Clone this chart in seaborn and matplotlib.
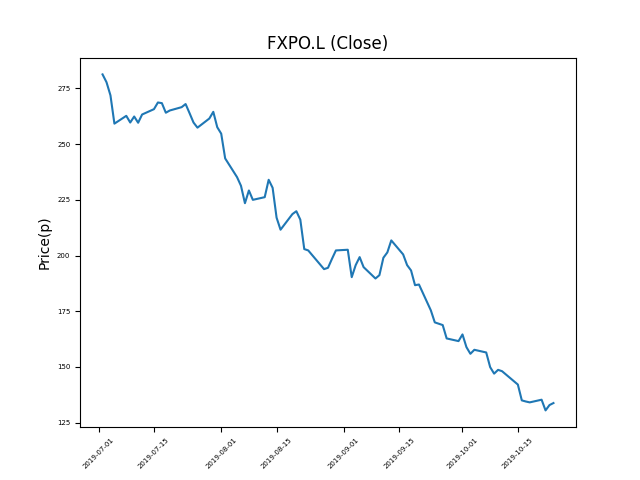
import pandas as pd
import matplotlib
matplotlib.use('Agg')
import matplotlib.pyplot as plt
import matplotlib.dates as mdates
from matplotlib.ticker import MultipleLocator
import seaborn as sns

# dados (fechamento diário, em pence)
datas = pd.to_datetime([
    '2019-07-02', '2019-07-03', '2019-07-04', '2019-07-05',
    '2019-07-08', '2019-07-09', '2019-07-10', '2019-07-11', '2019-07-12',
    '2019-07-15', '2019-07-16', '2019-07-17', '2019-07-18', '2019-07-19',
    '2019-07-22', '2019-07-23', '2019-07-24', '2019-07-25', '2019-07-26',
    '2019-07-29', '2019-07-30', '2019-07-31', '2019-08-01', '2019-08-02',
    '2019-08-05', '2019-08-06', '2019-08-07', '2019-08-08', '2019-08-09',
    '2019-08-12', '2019-08-13', '2019-08-14', '2019-08-15', '2019-08-16',
    '2019-08-19', '2019-08-20', '2019-08-21', '2019-08-22', '2019-08-23',
    '2019-08-27', '2019-08-28', '2019-08-29', '2019-08-30',
    '2019-09-02', '2019-09-03', '2019-09-04', '2019-09-05', '2019-09-06',
    '2019-09-09', '2019-09-10', '2019-09-11', '2019-09-12', '2019-09-13',
    '2019-09-16', '2019-09-17', '2019-09-18', '2019-09-19', '2019-09-20',
    '2019-09-23', '2019-09-24', '2019-09-25', '2019-09-26', '2019-09-27',
    '2019-09-30', '2019-10-01', '2019-10-02', '2019-10-03', '2019-10-04',
    '2019-10-07', '2019-10-08', '2019-10-09', '2019-10-10', '2019-10-11',
    '2019-10-14', '2019-10-15', '2019-10-16', '2019-10-17', '2019-10-18',
    '2019-10-21', '2019-10-22', '2019-10-23', '2019-10-24',
])

fechamento = [
    281.3, 277.8, 271.9, 259.2,
    262.7, 259.7, 262.4, 259.6, 263.3,
    265.7, 268.7, 268.4, 264.1, 265.1,
    266.6, 268.0, 263.9, 259.7, 257.4,
    261.5, 264.5, 257.6, 254.7, 243.6,
    235.2, 231.3, 223.5, 229.2, 225.0,
    226.2, 234.0, 230.4, 217.0, 211.6,
    218.6, 219.9, 216.1, 202.9, 202.3,
    193.9, 194.5, 198.5, 202.3,
    202.6, 190.3, 195.7, 199.3, 194.8,
    189.7, 191.2, 199.0, 201.4, 206.8,
    200.5, 195.7, 193.3, 186.7, 187.0,
    175.4, 170.0, 169.4, 168.8, 162.8,
    161.6, 164.6, 158.9, 155.9, 157.7,
    156.5, 149.9, 147.0, 148.7, 148.1,
    143.6, 142.1, 135.0, 134.5, 134.1,
    135.3, 130.5, 132.9, 133.8,
]

ticker = 'FXPO.L'

df = pd.DataFrame({'Date': datas, 'Close': fechamento})

fig, ax = plt.subplots(figsize=(6.4, 4.8), dpi=100)
sns.lineplot(data=df, x='Date', y='Close', ax=ax, color='#1f77b4', linewidth=1.5)

ax.set_title(f'{ticker} (Close)')
ax.set_xlabel('')
ax.set_ylabel('Price(p)')
ax.yaxis.set_major_locator(MultipleLocator(25))
ax.xaxis.set_major_formatter(mdates.DateFormatter('%Y-%m-%d'))
plt.xticks(rotation=45, fontsize=5)
plt.yticks(fontsize=5)

plt.savefig('out.png', dpi=100)
